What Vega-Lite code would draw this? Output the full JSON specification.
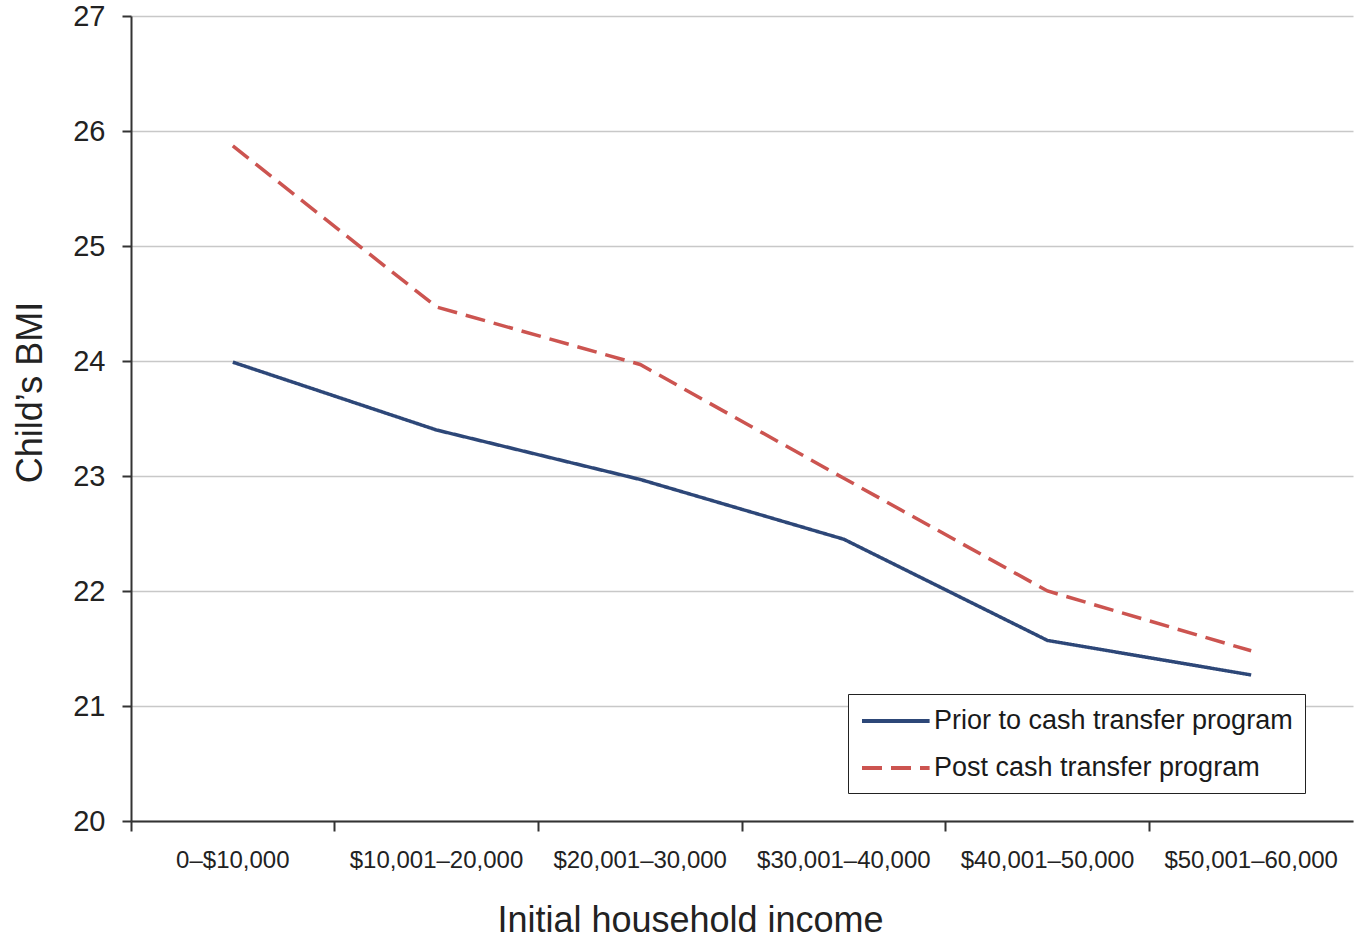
{
  "$schema": "https://vega.github.io/schema/vega-lite/v6.json",
  "autosize": "none",
  "width": 1222,
  "height": 805,
  "padding": {"left": 131, "top": 16, "right": 13, "bottom": 123},
  "background": "white",
  "config": {
    "font": "Liberation Sans",
    "view": {"stroke": null}
  },
  "data": {
    "values": [
      {"income": "0–$10,000", "series": "Prior to cash transfer program", "bmi": 23.99},
      {"income": "$10,001–20,000", "series": "Prior to cash transfer program", "bmi": 23.40},
      {"income": "$20,001–30,000", "series": "Prior to cash transfer program", "bmi": 22.97},
      {"income": "$30,001–40,000", "series": "Prior to cash transfer program", "bmi": 22.45},
      {"income": "$40,001–50,000", "series": "Prior to cash transfer program", "bmi": 21.57},
      {"income": "$50,001–60,000", "series": "Prior to cash transfer program", "bmi": 21.27},
      {"income": "0–$10,000", "series": "Post cash transfer program", "bmi": 25.87},
      {"income": "$10,001–20,000", "series": "Post cash transfer program", "bmi": 24.47},
      {"income": "$20,001–30,000", "series": "Post cash transfer program", "bmi": 23.97},
      {"income": "$30,001–40,000", "series": "Post cash transfer program", "bmi": 22.98},
      {"income": "$40,001–50,000", "series": "Post cash transfer program", "bmi": 22.00},
      {"income": "$50,001–60,000", "series": "Post cash transfer program", "bmi": 21.48}
    ]
  },
  "mark": {"type": "line", "strokeWidth": 3.5},
  "encoding": {
    "x": {
      "field": "income",
      "type": "ordinal",
      "sort": null,
      "scale": {"type": "band", "paddingInner": 0, "paddingOuter": 0},
      "axis": {
        "title": "Initial household income",
        "titleFontSize": 36,
        "titleFontWeight": "normal",
        "titleColor": "#222",
        "titlePadding": 31,
        "titleX": 559,
        "labelAngle": 0,
        "labelFontSize": 24,
        "labelColor": "#222",
        "labelPadding": 17,
        "labelDx": -4,
        "bandPosition": 0,
        "tickSize": 10,
        "tickColor": "#333",
        "tickWidth": 2,
        "domainColor": "#333",
        "domainWidth": 2,
        "grid": false
      }
    },
    "y": {
      "field": "bmi",
      "type": "quantitative",
      "scale": {"domain": [20, 27], "nice": false, "zero": false},
      "axis": {
        "title": "Child’s BMI",
        "titleFontSize": 36,
        "titleFontWeight": "normal",
        "titleColor": "#222",
        "titlePadding": 23,
        "titleY": 376,
        "values": [20, 21, 22, 23, 24, 25, 26, 27],
        "labelFontSize": 29,
        "labelColor": "#222",
        "labelPadding": 17,
        "tickSize": 9,
        "tickColor": "#333",
        "tickWidth": 2,
        "domainColor": "#333",
        "domainWidth": 2,
        "grid": true,
        "gridColor": "#c8c8c8",
        "gridWidth": 1.5
      }
    },
    "color": {
      "field": "series",
      "type": "nominal",
      "sort": ["Prior to cash transfer program", "Post cash transfer program"],
      "scale": {
        "domain": ["Prior to cash transfer program", "Post cash transfer program"],
        "range": ["#2d4778", "#cc5450"]
      },
      "legend": {
        "title": null,
        "orient": "none",
        "legendX": 717,
        "legendY": 678,
        "direction": "vertical",
        "labelFontSize": 27,
        "labelColor": "#1a1a1a",
        "labelLimit": 500,
        "labelOffset": 44,
        "symbolType": "M-1,0H4.2",
        "symbolSize": 676,
        "symbolStrokeWidth": 4,
        "rowPadding": 19,
        "padding": 12,
        "strokeColor": "#222",
        "fillColor": "white"
      }
    },
    "strokeDash": {
      "field": "series",
      "type": "nominal",
      "sort": ["Prior to cash transfer program", "Post cash transfer program"],
      "scale": {
        "domain": ["Prior to cash transfer program", "Post cash transfer program"],
        "range": [[1, 0], [20, 9]]
      },
      "legend": null
    }
  }
}
